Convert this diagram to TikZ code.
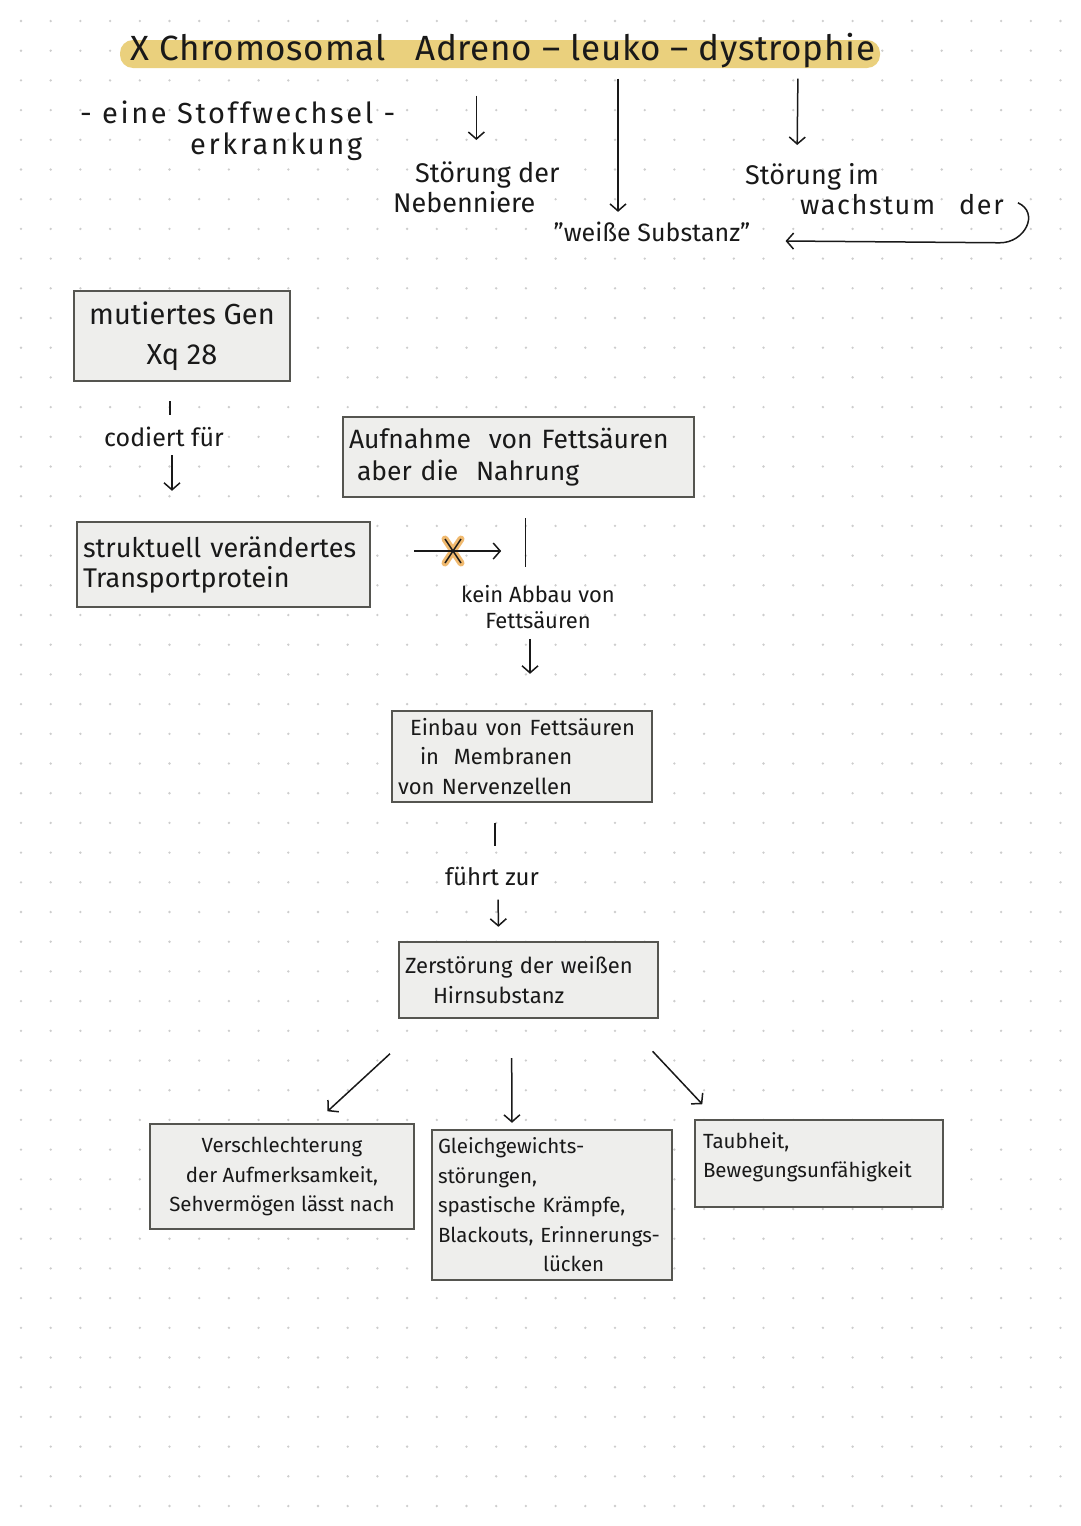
\documentclass[tikz,border=0pt]{standalone}
\usepackage{fontspec}
\setmainfont{Fira Sans}
\usetikzlibrary{arrows.meta,calc}
\definecolor{hl}{RGB}{234,208,125}
\definecolor{boxfill}{RGB}{238,238,236}
\definecolor{boxline}{RGB}{85,85,80}
\definecolor{ink}{RGB}{25,25,25}
\definecolor{xorange}{RGB}{240,185,110}
\definecolor{griddot}{RGB}{205,205,205}
\begin{document}
\begin{tikzpicture}[x=1pt,y=-1pt,
  box/.style={draw=boxline, line width=2.4pt, fill=boxfill, inner sep=6pt, text=ink},
  txt/.style={text=ink, inner sep=0pt},
  arr/.style={draw=ink, line width=1.5pt, -{Straight Barb[length=7pt,width=16pt,line width=1.5pt]}},
  ln/.style={draw=ink, line width=1.5pt},
  fT/.style={font=\fontsize{35}{38}\selectfont\addfontfeature{LetterSpace=2}},
  fEine/.style={font=\fontsize{29}{31}\selectfont\addfontfeature{LetterSpace=9}},
  fTop/.style={font=\fontsize{27}{30}\selectfont},
  fGen/.style={font=\fontsize{29}{40}\selectfont},
  fCod/.style={font=\fontsize{25}{30}\selectfont},
  fProt/.style={font=\fontsize{27}{30}\selectfont},
  fAuf/.style={font=\fontsize{26.5}{32}\selectfont},
  fKein/.style={font=\fontsize{22}{26}\selectfont},
  fMid/.style={font=\fontsize{22}{29.5}\selectfont},
  fFu/.style={font=\fontsize{24}{29}\selectfont},
  fLow/.style={font=\fontsize{20.5}{29.5}\selectfont},
]
\useasboundingbox (0,0) rectangle (1080,1526);
\fill[white] (0,0) rectangle (1080,1526);
\foreach \i in {0,...,35} \foreach \j in {0,...,50}
  \fill[griddot] (21+29.7*\i, 21+29.7*\j) circle (1.3);

% title
\fill[hl, rounded corners=13pt] (120,40) rectangle (880,68);
\node[txt, fT] (title) at (503,51) {X Chromosomal\hspace{30pt}Adreno -- leuko -- dystrophie};

% top texts
\node[txt, fEine, align=left, anchor=north west] (eine) at (80,101)
  {- eine Stoffwechsel -\\\hspace*{110pt}erkrankung};
\node[txt, fTop, align=left, anchor=north west] (nebenniere) at (393,162)
  {\hspace*{22pt}Störung der\\Nebenniere};
\node[txt, fTop, font=\fontsize{25}{30}\selectfont] (weisse) at (652,232) {"weiße Substanz"};
\node[txt, fTop, align=left, anchor=north west] (wachstum) at (745,163)
  {Störung im\\\hspace*{55pt}{\addfontfeature{LetterSpace=6}wachstum\hspace{24pt}der}};

\draw[arr, shorten <=27pt, shorten >=22pt] (title.south -| nebenniere.north) -- (nebenniere.north);
\draw[arr, shorten <=10pt, shorten >=10pt] ($(title.south)+(115,0)$) -- ($(weisse.north)+(-34,0)$);
\draw[arr, shorten <=10pt, shorten >=18pt] ($(title.south)+(295,0)$) -- ($(wachstum.north west)+(52,0)$);
\draw[arr] ($(wachstum.south east)+(14,-12)$) .. controls +(22,10) and +(25,0) .. ++(-18,40) -- ($(weisse.east)+(35,9)$);

% gene
\node[box, fGen, minimum width=216pt, minimum height=90pt, align=center] (gen) at (182,336)
  {mutiertes Gen\\Xq 28};
\node[txt, fCod] (codiert) at (164,437) {codiert für};
\node[box, fProt, minimum width=293pt, minimum height=85pt, align=left, text width=281pt] (protein) at (223.5,564.5)
  {struktuell verändertes\\Transportprotein};
\draw[ln, shorten <=19pt, shorten >=12pt] ($(gen.south -| codiert.north)+(6,0)$) -- ($(codiert.north)+(6,0)$);
\draw[arr, shorten <=8pt, shorten >=30pt] ($(codiert.south)+(8,0)$) -- ($(protein.north -| codiert.south)+(8,0)$);

\node[box, fAuf, minimum width=351pt, minimum height=80pt, align=left, text width=339pt] (aufnahme) at (518.5,457)
  {Aufnahme\ \ von Fettsäuren\\\hspace*{8pt}aber die\ \ Nahrung};

% blocked arrow
\node[inner sep=0pt] (xmark) at (453,551) {};
\coordinate (xa) at ($(protein.east)+(43,-13.5)$);
\coordinate (xb) at ($(protein.east)+(130,-13.5)$);
\draw[xorange, line width=7pt, line cap=round] ($(xmark)+(-8,-12)$) -- ($(xmark)+(8,12)$);
\draw[xorange, line width=7pt, line cap=round] ($(xmark)+(8,-12)$) -- ($(xmark)+(-8,12)$);
\draw[arr] (xa) -- (xb);
\draw[ink, line width=1.5pt] ($(xmark)+(-8,-12)$) -- ($(xmark)+(8,12)$);
\draw[ink, line width=1.5pt] ($(xmark)+(8,-12)$) -- ($(xmark)+(-8,12)$);

\node[txt, fKein, align=center] (kein) at (538,607) {kein Abbau von\\Fettsäuren};
\draw[ln, shorten <=20pt, shorten >=18pt] ($(aufnahme.south)+(7,0)$) -- ($(kein.north -| aufnahme.south)+(7,0)$);

\node[box, fMid, minimum width=260pt, minimum height=91pt, align=left, text width=248pt] (einbau) at (522,756.5)
  {\hspace*{12pt}Einbau von Fettsäuren\\\hspace*{22pt}in\ \ Membranen\\von Nervenzellen};
\draw[arr, shorten <=10pt, shorten >=36pt] ($(kein.south)+(-8,0)$) -- ($(einbau.north)+(8,0)$);

\node[txt, fFu] (fuehrt) at (492,876) {führt zur};
\node[box, fMid, minimum width=259pt, minimum height=76pt, align=left, text width=247pt] (zer) at (528.5,980)
  {Zerstörung der weißen\\\hspace*{28pt}Hirnsubstanz};
\draw[ln, shorten <=20pt, shorten >=20pt] ($(einbau.south)+(-27,0)$) -- ($(fuehrt.north)+(3,0)$);
\draw[arr, shorten <=14pt, shorten >=14pt] ($(fuehrt.south)+(6,0)$) -- ($(zer.north)+(-30,0)$);

% consequences
\node[box, fLow, minimum width=264pt, minimum height=105pt, align=center] (v1) at (282,1176.5)
  {Verschlechterung\\der Aufmerksamkeit,\\Sehvermögen lässt nach};
\node[box, fLow, minimum width=236pt, minimum height=150pt, align=left, text width=228pt] (v2) at (552,1205)
  {Gleichgewichts-\\störungen,\\spastische Krämpfe,\\Blackouts, Erinnerungs-\\\hspace*{105pt}lücken};
\node[box, fLow, minimum width=248pt, minimum height=87pt, align=left, text width=232pt] (v3) at (819,1163.5)
  {Taubheit,\\Bewegungsunfähigkeit\\[-12pt]\mbox{}};

\draw[arr, shorten <=51pt, shorten >=17pt] ($(zer.south)+(-101,0)$) -- ($(v1.north)+(33,0)$);
\draw[arr, shorten <=39pt, shorten >=6pt] ($(zer.south)+(-17,0)$) -- ($(v2.north)+(-40,0)$);
\draw[arr, shorten <=44pt, shorten >=20pt] ($(zer.south)+(94,0)$) -- ($(v3.north)+(-103,0)$);
\end{tikzpicture}
\end{document}
